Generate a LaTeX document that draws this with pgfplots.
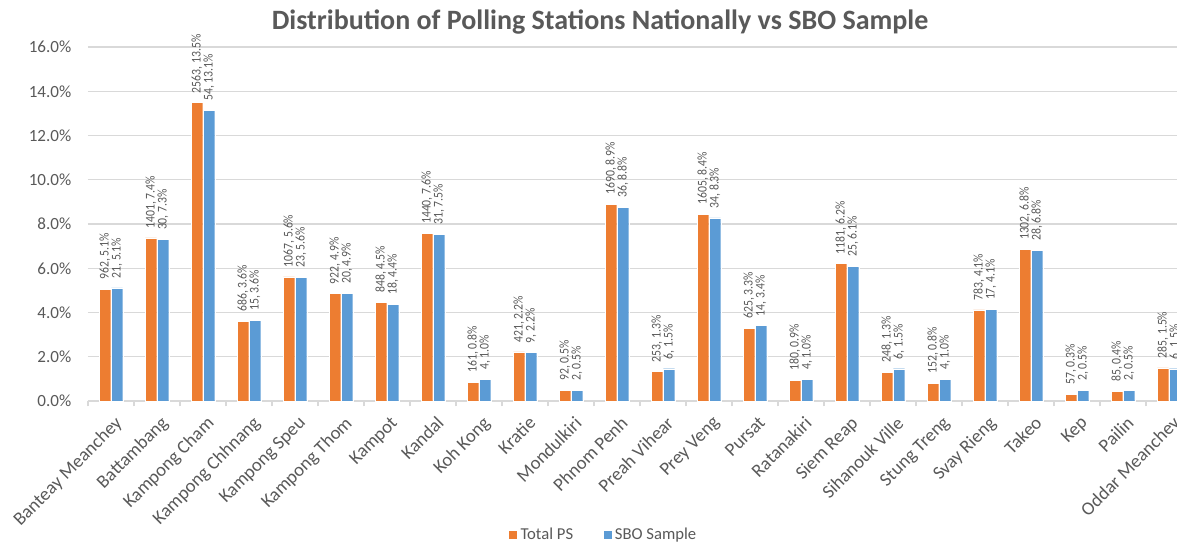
\documentclass[border=0pt]{standalone}
\usepackage{pgfplots}
\pgfplotsset{compat=1.18}
\usepackage{pgfplotstable}
\usepackage{fontspec}
\setmainfont{Carlito}
\newfontfamily\labfont{Carlito}[FakeStretch=0.88]
\definecolor{xlorange}{HTML}{ED7D31}
\definecolor{xlblue}{HTML}{5B9BD5}
\definecolor{xlgrid}{HTML}{D9D9D9}
\definecolor{xltext}{HTML}{595959}
\definecolor{xllab}{HTML}{595959}

\pgfplotstableread[col sep=semicolon]{
x;y;lab
0;5.061;962, 5.1\%
1;7.370;1401, 7.4\%
2;13.483;2563, 13.5\%
3;3.609;686, 3.6\%
4;5.613;1067, 5.6\%
5;4.850;922, 4.9\%
6;4.461;848, 4.5\%
7;7.575;1440, 7.6\%
8;0.847;161, 0.8\%
9;2.215;421, 2.2\%
10;0.484;92, 0.5\%
11;8.890;1690, 8.9\%
12;1.331;253, 1.3\%
13;8.443;1605, 8.4\%
14;3.288;625, 3.3\%
15;0.947;180, 0.9\%
16;6.213;1181, 6.2\%
17;1.305;248, 1.3\%
18;0.800;152, 0.8\%
19;4.119;783, 4.1\%
20;6.849;1302, 6.8\%
21;0.300;57, 0.3\%
22;0.447;85, 0.4\%
23;1.499;285, 1.5\%
}\tot

\pgfplotstableread[col sep=semicolon]{
x;y;lab
0;5.109;21, 5.1\%
1;7.299;30, 7.3\%
2;13.139;54, 13.1\%
3;3.650;15, 3.6\%
4;5.596;23, 5.6\%
5;4.866;20, 4.9\%
6;4.380;18, 4.4\%
7;7.543;31, 7.5\%
8;0.973;4, 1.0\%
9;2.190;9, 2.2\%
10;0.487;2, 0.5\%
11;8.759;36, 8.8\%
12;1.460;6, 1.5\%
13;8.273;34, 8.3\%
14;3.406;14, 3.4\%
15;0.973;4, 1.0\%
16;6.083;25, 6.1\%
17;1.460;6, 1.5\%
18;0.973;4, 1.0\%
19;4.136;17, 4.1\%
20;6.813;28, 6.8\%
21;0.487;2, 0.5\%
22;0.487;2, 0.5\%
23;1.460;6, 1.5\%
}\sbo

\begin{document}
\begin{tikzpicture}
\begin{axis}[
  at={(0pt,0pt)}, anchor=south west,
  scale only axis,
  width=828pt, height=265.5pt,
  ybar, bar width=8.6pt,
  xmin=-0.5, xmax=23.5,
  ymin=0, ymax=16,
  ytick={0,2,...,16},
  yticklabel={\pgfmathprintnumber[fixed,fixed zerofill,precision=1,assume math mode=true]{\tick}\%},
  yticklabel style={font=\fontsize{12.8}{14}\selectfont, text=xltext, xshift=-9pt},
  xtick={0,...,23},
  xticklabels={Banteay Meanchey,Battambang,Kampong Cham,Kampong Chhnang,Kampong Speu,Kampong Thom,Kampot,Kandal,Koh Kong,Kratie,Mondulkiri,Phnom Penh,Preah Vihear,Prey Veng,Pursat,Ratanakiri,Siem Reap,Sihanouk Ville,Stung Treng,Svay Rieng,Takeo,Kep,Pailin,Oddar Meanchey},
  xticklabel style={xshift=2pt, yshift=-9pt, font=\fontsize{14}{16}\selectfont, text=xltext, rotate=45, anchor=north east, inner sep=1pt},
  major tick length=0pt,
  extra x ticks={-0.5,0.5,...,23.5},
  extra x tick labels={},
  extra x tick style={major tick length=4pt, tick align=outside, tick style={xlgrid, line width=0.8pt}, grid=none},
  axis lines*=left,
  axis line style={-},
  x axis line style={xlgrid, line width=0.8pt},
  y axis line style={draw=none},
  ymajorgrids, grid style={xlgrid, line width=0.8pt},
  clip=false,
  nodes near coords,
  point meta=explicit symbolic,
  nodes near coords align={anchor=west},
  nodes near coords style={rotate=90, anchor=west, font=\labfont\fontsize{10}{11}\selectfont, text=xllab, inner ysep=0pt, inner xsep=7pt},
  legend style={at={(0.467,-0.378)}, anchor=center, draw=none, fill=none, font=\fontsize{12.5}{14}\selectfont, text=xltext, legend columns=2, /tikz/every even column/.append style={column sep=20pt}},
  legend image code/.code={\fill[#1] (0pt,-3.5pt) rectangle (7pt,3.5pt);},
]
\addplot[fill=xlorange, draw=white, line width=0.3pt, bar shift=-4.5pt] table[x=x, y=y, meta=lab]{\tot};
\addplot[fill=xlblue, draw=white, line width=0.3pt, bar shift=4.5pt] table[x=x, y=y, meta=lab]{\sbo};
\legend{Total PS, SBO Sample}
\end{axis}
\node[font=\bfseries\fontsize{21}{25}\selectfont, text=xltext] at (384pt,284.5pt) {Distribution of Polling Stations Nationally vs SBO Sample};
\pgfresetboundingbox
\useasboundingbox (-66pt,-106.5pt) rectangle (816.75pt,300.75pt);
\end{tikzpicture}
\end{document}
